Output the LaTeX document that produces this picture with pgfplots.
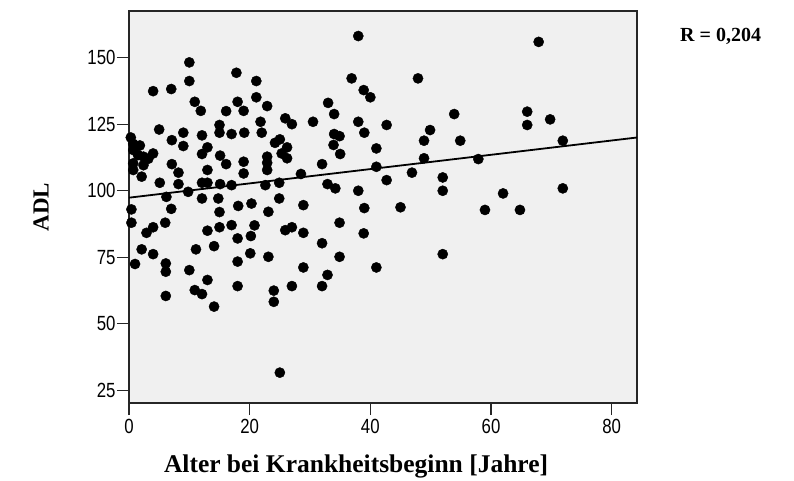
\documentclass[border=0pt]{standalone}
\usepackage{fontspec}
\setmainfont{Liberation Serif}
\newfontfamily\tickfont[FakeStretch=0.82]{Liberation Sans}
\usepackage{pgfplots}
\pgfplotsset{compat=1.18}
\definecolor{bg}{HTML}{F0F0F0}
\begin{document}
\begin{tikzpicture}
\useasboundingbox (-129pt,-77pt) rectangle (665pt,403pt);
\begin{axis}[
  at={(0,0)}, anchor=south west,
  scale only axis, width=508pt, height=392pt,
  xmin=0, xmax=84.2, ymin=20.3, ymax=167.5,
  axis background/.style={fill=bg},
  axis line style={black!85, line width=1.1pt},
  xtick={0,20,40,60,80}, ytick={25,50,75,100,125,150},
  tick align=outside, xtick pos=bottom, ytick pos=left,
  major tick length=12pt,
  tick style={black!85, line width=1.1pt},
  ticklabel style={font=\tickfont\fontsize{20.5}{20.5}\selectfont},
  xticklabel style={yshift=-1pt},
  yticklabel style={xshift=2pt},
  /pgf/number format/assume math mode=true,
  xlabel={Alter bei Krankheitsbeginn [Jahre]},
  ylabel={ADL},
  every axis x label/.style={at={(rel axis cs:0.447,0)}, yshift=-69pt, anchor=base, font=\bfseries\fontsize{25.5}{25.5}\selectfont},
  every axis y label/.style={at={(rel axis cs:0,0.5)}, xshift=-88pt, rotate=90, anchor=center, font=\bfseries\fontsize{23}{23}\selectfont},
]
\addplot[only marks, mark=*, mark size=5.1pt, mark options={fill=black, draw=black}] coordinates {
(10.0,148.2) (10.0,141.2) (4.0,137.4) (7.0,138.2) (17.8,144.3) (10.9,133.4) (11.9,130.0)
(16.1,129.9) (18.0,133.4) (19.0,130.0) (5.0,123.0) (7.1,119.0) (9.0,121.8) (9.0,116.8)
(12.1,120.8) (15.0,124.7) (15.0,121.8) (17.0,121.3) (19.1,121.8) (13.0,116.3) (12.1,113.8)
(15.1,113.2) (16.1,110.0) (13.0,107.8) (19.0,110.9) (19.0,106.5) (7.1,110.0) (8.2,106.8)
(2.1,105.3) (5.1,103.0) (8.2,102.5) (9.8,99.6) (12.1,103.0) (13.0,103.0) (15.1,102.5)
(17.0,102.1) (6.2,97.7) (12.1,97.1) (14.8,97.1) (7.0,93.2) (18.1,94.3) (20.3,95.2)
(0.7,117.6) (0.7,115.3) (1.5,113.4) (2.4,112.8) (4.0,114.0) (0.7,110.3) (2.4,109.6)
(0.7,107.8) (3.2,112.0) (0.3,120.0) (1.8,117.0)
(0.4,93.0) (0.4,88.0) (2.9,84.2) (4.0,86.3) (6.0,88.0) (2.1,78.0) (4.0,76.2) (1.0,72.5)
(6.1,72.7) (6.1,69.6) (6.1,60.5) (11.1,78.0) (14.1,79.2) (10.0,70.2) (13.0,66.5) (10.9,62.7)
(12.1,61.2) (14.1,56.5) (13.0,85.0) (15.0,86.3) (17.0,87.1) (18.0,82.1) (20.2,83.0) (20.8,87.0)
(20.1,76.5) (18.0,73.4) (18.0,64.2) (15.0,92.0)
(38.0,158.1) (36.9,142.2) (38.9,137.8) (40.0,135.1) (21.1,141.2) (21.1,135.1) (22.9,131.8)
(21.8,125.9) (22.0,121.8) (25.9,127.2) (27.0,125.0) (30.5,125.9) (33.0,133.0) (34.0,128.8)
(34.0,121.3) (34.9,120.5) (33.9,117.2) (35.0,113.8) (38.0,125.9) (39.0,121.8) (41.0,115.9)
(42.7,124.7) (41.0,109.0) (42.7,104.0) (24.2,118.0) (25.0,119.3) (26.2,116.3) (22.9,112.8)
(22.9,110.5) (22.9,107.8) (25.3,114.0) (26.2,112.2) (32.0,110.0) (28.5,106.3) (22.6,102.1)
(24.9,103.0) (32.9,102.5) (34.2,100.9) (38.0,100.0) (24.9,97.1) (28.9,94.6) (39.0,93.5)
(23.1,92.1) (25.9,85.2) (27.0,86.3) (28.9,84.2) (34.9,88.0) (38.9,84.0) (32.0,80.3)
(23.1,75.2) (34.9,75.2) (28.9,71.2) (41.0,71.2) (32.9,68.4) (27.0,64.2) (32.0,64.2)
(24.0,62.5) (24.0,58.3) (25.0,31.7)
(47.9,142.2) (53.9,128.8) (49.9,122.8) (48.9,118.8) (54.9,118.8) (48.9,112.2) (57.9,111.9)
(46.9,106.8) (52.0,105.0) (52.0,100.0) (62.0,99.0) (45.0,93.8) (59.0,92.8) (52.0,76.2)
(67.9,155.9) (66.0,129.7) (66.0,124.7) (69.8,126.8) (71.9,118.8) (71.9,100.9) (64.8,92.8)
};
\addplot[black, line width=1.8pt] coordinates {(0,97.4) (84.2,120.0)};
\end{axis}
\node[anchor=base west, font=\bfseries\fontsize{20}{20}\selectfont, inner sep=0pt] at (551pt,361pt) {R = 0,204};
\end{tikzpicture}
\end{document}
